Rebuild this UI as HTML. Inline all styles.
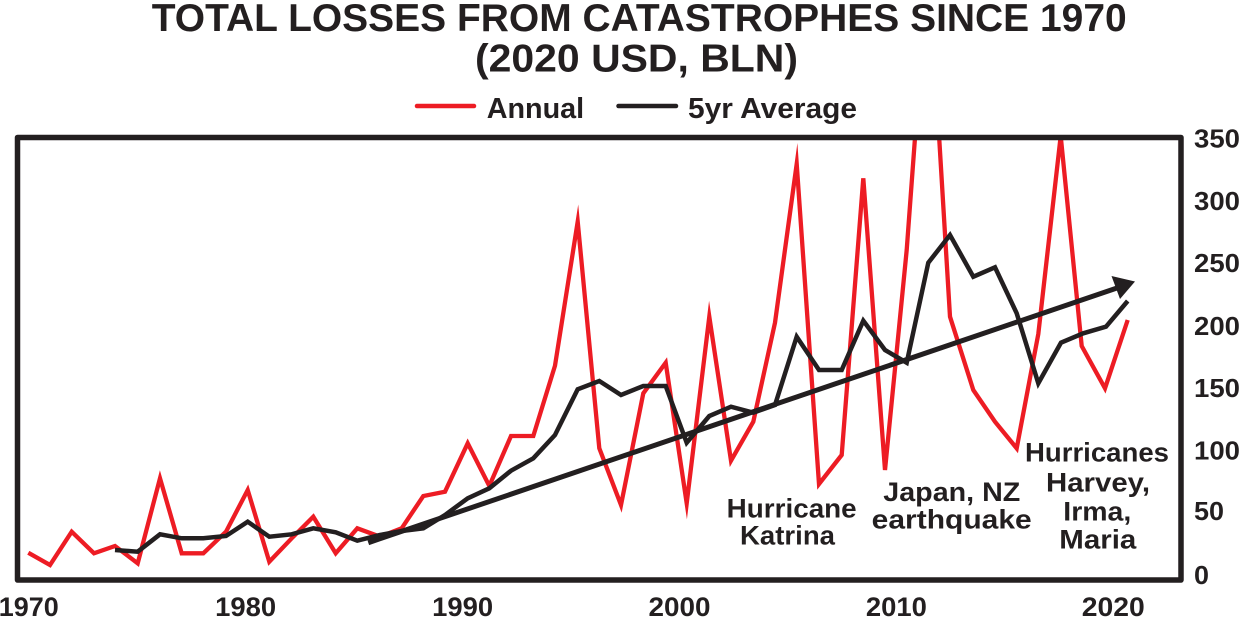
<!DOCTYPE html>
<html>
<head>
<meta charset="utf-8">
<style>
html,body{margin:0;padding:0;background:#fff;}
svg{display:block;}
text{font-family:"Liberation Sans",Arial,sans-serif;font-weight:bold;fill:#231f20;}
</style>
</head>
<body>
<svg width="1241" height="617" viewBox="0 0 1241 617" xmlns="http://www.w3.org/2000/svg">
  <defs>
    <clipPath id="plot">
      <rect x="17" y="137" width="1164" height="443"/>
    </clipPath>
  </defs>

  <!-- Title -->
  <text x="151.7" y="31" font-size="39" textLength="975" lengthAdjust="spacingAndGlyphs">TOTAL LOSSES FROM CATASTROPHES SINCE 1970</text>
  <text x="475" y="71.5" font-size="39" textLength="323" lengthAdjust="spacingAndGlyphs">(2020 USD, BLN)</text>

  <!-- Legend -->
  <line x1="417" y1="106" x2="474" y2="106" stroke="#ed1c24" stroke-width="4.5" stroke-linecap="round"/>
  <text x="486.7" y="118" font-size="29" textLength="97.5" lengthAdjust="spacingAndGlyphs">Annual</text>
  <line x1="618.5" y1="106" x2="676" y2="106" stroke="#231f20" stroke-width="4.5" stroke-linecap="round"/>
  <text x="688" y="118" font-size="29" textLength="169" lengthAdjust="spacingAndGlyphs">5yr Average</text>

  <g clip-path="url(#plot)" fill="none" stroke-linejoin="miter" stroke-miterlimit="10">
    <!-- Annual (red) -->
    <polyline stroke="#ed1c24" stroke-width="4.3" points="
      28.3,552.7 50,565 71.7,531.7 94,553.3 115,546 137.7,563.3 160,478.3 181.7,553.3 203.3,553.3 226,531.7
      247.7,490 269.3,561.7 291.7,538.3 313.3,516.7 335.7,553.3 357.3,528.3 380,536.7 401.7,528.3 423.3,496 445,491.7
      467.7,443.3 489.3,486 511,436 533.3,436 555,365.7 577.7,221.7 599.3,448.3 621,505 643.3,393.3 665.7,362.7
      686.7,503.3 709.3,316.7 731,460.7 753.3,421.7 775,322.7 796.7,164 819,484 841.7,455 863.3,178.3 885,470
      906.7,250 928.3,-42 950,316.7 973.3,390 995,421.7 1016.7,448.3 1038.3,334 1060.7,136 1081.7,346 1105,388.3 1127.7,320"/>
    <!-- 5yr average (black) -->
    <polyline stroke="#231f20" stroke-width="4.5" points="
      115,550 137.7,551.7 160,534.3 181.7,538.3 203.3,538.3 226,536 247.7,521.7 269.3,536.7 291.7,534.3 313.3,528.3
      335.7,532.3 357.3,540.7 380,535 401.7,531 423.3,528.3 445,515 467.7,498.3 489.3,488.3 511,470.7 533.3,458.3
      555,435 577.7,389.3 599.3,381 621,395 643.3,386 665.7,386 686.7,442.7 709.3,416 731,406.7 753.3,412.7
      775,405 796.7,336.7 819,370 841.7,370 863.3,320.7 885,350 906.7,362.7 928.3,262.7 950,235 973.3,276.7
      995,267.3 1016.7,313.3 1038.3,383.3 1061,342.7 1083.3,333.3 1106,326.7 1127.7,301"/>
    <!-- Trend arrow -->
    <line x1="368.3" y1="542.7" x2="1117" y2="288" stroke="#231f20" stroke-width="5"/>
  </g>
  <polygon points="1135,281.5 1111.5,276 1120,299" fill="#231f20"/>

  <!-- Frame -->
  <rect x="17.5" y="137.5" width="1163.5" height="442.5" fill="none" stroke="#231f20" stroke-width="5.5" stroke-linejoin="round"/>

  <!-- Right axis tick labels -->
  <g font-size="26">
    <text x="1194" y="147.5" textLength="46" lengthAdjust="spacingAndGlyphs">350</text>
    <text x="1194" y="210" textLength="46" lengthAdjust="spacingAndGlyphs">300</text>
    <text x="1194" y="272" textLength="46" lengthAdjust="spacingAndGlyphs">250</text>
    <text x="1194" y="335" textLength="46" lengthAdjust="spacingAndGlyphs">200</text>
    <text x="1194" y="397" textLength="46" lengthAdjust="spacingAndGlyphs">150</text>
    <text x="1194" y="459.5" textLength="46" lengthAdjust="spacingAndGlyphs">100</text>
    <text x="1194" y="520" textLength="30" lengthAdjust="spacingAndGlyphs">50</text>
    <text x="1194" y="584" textLength="15" lengthAdjust="spacingAndGlyphs">0</text>
  </g>

  <!-- X axis labels -->
  <g font-size="27" text-anchor="middle">
    <text x="28.8" y="616" textLength="60" lengthAdjust="spacingAndGlyphs">1970</text>
    <text x="245.7" y="616" textLength="61" lengthAdjust="spacingAndGlyphs">1980</text>
    <text x="462.6" y="616" textLength="61" lengthAdjust="spacingAndGlyphs">1990</text>
    <text x="679.5" y="616" textLength="62" lengthAdjust="spacingAndGlyphs">2000</text>
    <text x="896.4" y="616" textLength="61" lengthAdjust="spacingAndGlyphs">2010</text>
    <text x="1113.3" y="616" textLength="63" lengthAdjust="spacingAndGlyphs">2020</text>
  </g>

  <!-- Annotations -->
  <g font-size="27">
    <text x="726.7" y="517.5" textLength="130" lengthAdjust="spacingAndGlyphs">Hurricane</text>
    <text x="740" y="544.3" textLength="95" lengthAdjust="spacingAndGlyphs">Katrina</text>
    <text x="883.3" y="501" textLength="137" lengthAdjust="spacingAndGlyphs">Japan, NZ</text>
    <text x="871.7" y="528.3" textLength="160" lengthAdjust="spacingAndGlyphs">earthquake</text>
    <text x="1025" y="461.7" textLength="144" lengthAdjust="spacingAndGlyphs">Hurricanes</text>
    <text x="1046" y="491.7" textLength="104" lengthAdjust="spacingAndGlyphs">Harvey,</text>
    <text x="1063.3" y="520.7" textLength="68" lengthAdjust="spacingAndGlyphs">Irma,</text>
    <text x="1059.3" y="548.3" textLength="77" lengthAdjust="spacingAndGlyphs">Maria</text>
  </g>
</svg>
</body>
</html>
